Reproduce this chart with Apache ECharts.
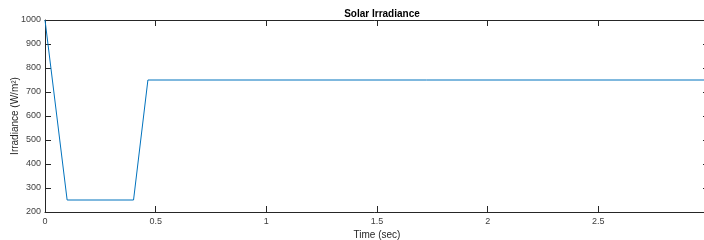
<!DOCTYPE html>
<html>
<head>
<meta charset="utf-8">
<script src="https://cdn.jsdelivr.net/npm/echarts@6/dist/echarts.min.js"></script>
<style>
  html, body { margin: 0; padding: 0; background: #fff; }
  #chart { width: 704px; height: 240px; }
</style>
</head>
<body>
<div id="chart"></div>
<script>
// time points (sec) and irradiance (W/m^2)
const timeSec = [0, 0.1, 0.4, 0.465, 3];
const irradiance = [1000, 250, 250, 750, 750];

const xTicks = { min: 0, max: 3, interval: 0.5 };
const yTicks = { min: 200, max: 1000, interval: 100 };

const axisGray = '#262626';
const labelGray = '#404040';
const font = 'Liberation Sans, Arial, sans-serif';

function display() {
  let myChart = echarts.init(document.getElementById('chart'));

  let points = [];
  for (let i = 0; i < timeSec.length; i++) {
    points.push([timeSec[i], irradiance[i]]);
  }

  // box-style axes, ticks pointing inwards like matlab
  let boxAxis = (extra) => Object.assign({
    type: 'value',
    axisLine: { show: true, onZero: false, lineStyle: { color: axisGray, width: 1 } },
    axisTick: { show: true, inside: true, length: 6, lineStyle: { color: axisGray } },
    splitLine: { show: false },
    axisLabel: { show: false }
  }, extra);

  let option = {
    animation: false,
    title: {
      text: 'Solar Irradiance',
      left: 377,
      textAlign: 'center',
      top: 4,
      textStyle: { fontFamily: font, fontSize: 10, fontWeight: 'bold', color: '#000' }
    },
    grid: { left: 45, right: -5, top: 20, bottom: 28, containLabel: false, outerBoundsMode: 'none' },
    xAxis: [
      boxAxis(Object.assign({}, xTicks, {
        position: 'bottom',
        name: 'Time (sec)',
        nameLocation: 'middle',
        nameGap: 18,
        nameMoveOverlap: false,
        nameTextStyle: { fontFamily: font, fontSize: 10, color: axisGray },
        axisLabel: { show: true, fontFamily: font, fontSize: 9, color: labelGray, margin: 5,
          formatter: (v) => String(v) }
      })),
      boxAxis(Object.assign({}, xTicks, { position: 'top' }))
    ],
    yAxis: [
      boxAxis(Object.assign({}, yTicks, {
        position: 'left',
        name: 'Irradiance (W/m²)',
        nameLocation: 'middle',
        nameGap: 25,
        nameMoveOverlap: false,
        nameTextStyle: { fontFamily: font, fontSize: 10, color: axisGray },
        axisLabel: { show: true, fontFamily: font, fontSize: 9, color: labelGray, margin: 4,
          formatter: (v) => String(v) }
      })),
      boxAxis(Object.assign({}, yTicks, { position: 'right' }))
    ],
    series: [{
      type: 'line',
      data: points,
      showSymbol: false,
      lineStyle: { color: '#0072BD', width: 1 },
      itemStyle: { color: '#0072BD' }
    }]
  };

  myChart.setOption(option);
  return myChart;
}

display();
</script>
</body>
</html>
